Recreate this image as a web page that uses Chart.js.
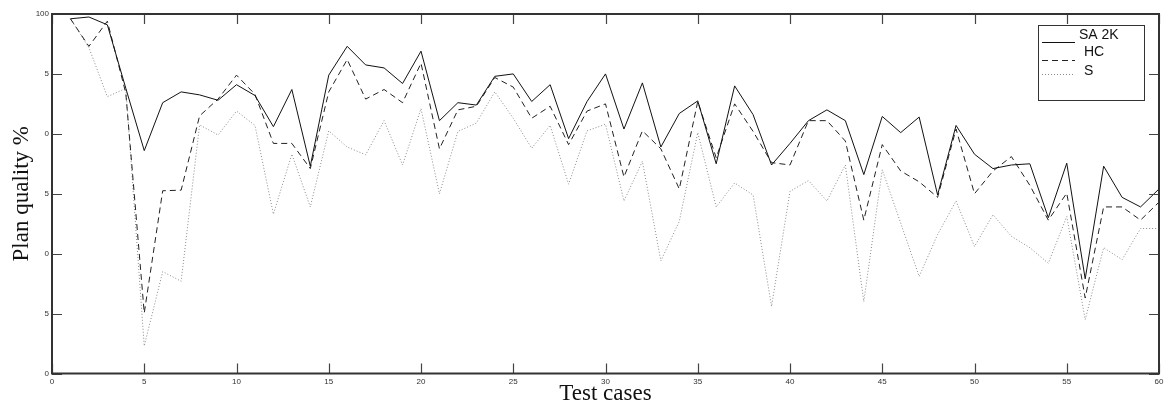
<!DOCTYPE html>
<html>
<head>
<meta charset="utf-8">
<script src="https://cdn.jsdelivr.net/npm/chart.js@4"></script>
<style>
  html, body { margin: 0; padding: 0; background: #fff; }
  #wrap { width: 1169px; height: 407px; }
</style>
</head>
<body>
<div id="wrap"><canvas id="quality"></canvas></div>
<script>
const testCases = [];
for (let i = 1; i <= 60; i++) testCases.push(i);

const sa2k = [99.6, 99.75, 99.1, 93.8, 88.6, 92.6, 93.5, 93.25, 92.8, 94.1,
  93.2, 90.6, 93.7, 87.3, 94.9, 97.3, 95.75, 95.5, 94.2, 96.9,
  91.1, 92.6, 92.4, 94.8, 95.0, 92.7, 94.1, 89.6, 92.7, 95.0,
  90.4, 94.25, 88.9, 91.7, 92.75, 87.5, 94.0, 91.6, 87.4, 89.2,
  91.1, 92.0, 91.1, 86.6, 91.45, 90.1, 91.4, 84.9, 90.7, 88.3,
  87.1, 87.4, 87.5, 83.0, 87.55, 77.9, 87.3, 84.7, 83.9, 85.4];

const hc = [99.6, 97.3, 99.4, 93.4, 75.05, 85.25, 85.3, 91.5, 92.9, 94.9,
  93.3, 89.2, 89.2, 87.1, 93.5, 96.2, 92.9, 93.7, 92.6, 95.9,
  88.75, 92.0, 92.3, 94.7, 93.9, 91.3, 92.3, 89.1, 91.9, 92.5,
  86.4, 90.25, 88.75, 85.4, 92.7, 88.0, 92.5, 90.2, 87.6, 87.4,
  91.1, 91.1, 89.4, 82.8, 89.1, 86.9, 86.0, 84.7, 90.4, 85.0,
  86.9, 88.1, 85.7, 82.8, 85.05, 76.3, 83.9, 83.9, 82.8, 84.3];

const s = [99.6, 97.2, 93.1, 93.8, 72.3, 78.5, 77.7, 90.75, 89.9, 91.9,
  90.7, 83.3, 88.3, 83.9, 90.25, 88.9, 88.25, 91.1, 87.4, 92.1,
  85.0, 90.2, 90.9, 93.5, 91.3, 88.8, 90.7, 85.8, 90.25, 90.8,
  84.4, 87.7, 79.4, 82.7, 90.1, 83.9, 85.9, 84.9, 75.6, 85.2,
  86.1, 84.4, 87.4, 76.0, 87.0, 82.55, 78.1, 81.6, 84.4, 80.6,
  83.25, 81.45, 80.5, 79.2, 83.1, 74.5, 80.5, 79.5, 82.1, 82.1];

// y tick labels as printed on the figure (values 70, 75, ... 100)
const yTickValues = [70, 75, 80, 85, 90, 95, 100];
const yTickLabels = ['0', '5', '0', '5', '0', '5', '100'];
const xTickValues = [0, 5, 10, 15, 20, 25, 30, 35, 40, 45, 50, 55, 60];

const pts = arr => arr.map((v, i) => ({ x: testCases[i], y: v }));

// frame with inward ticks on all four sides, matlab style
const frame = {
  id: 'frame',
  afterDatasetsDraw(chart) {
    const { ctx, chartArea: a, scales } = chart;
    ctx.save();
    ctx.strokeStyle = '#444';
    ctx.lineWidth = 1.2;
    ctx.beginPath();
    xTickValues.forEach(v => {
      const px = Math.round(scales.x.getPixelForValue(v)) + 0.5;
      ctx.moveTo(px, a.bottom); ctx.lineTo(px, a.bottom - 10);
      ctx.moveTo(px, a.top); ctx.lineTo(px, a.top + 10);
    });
    yTickValues.forEach(v => {
      const py = Math.round(scales.y.getPixelForValue(v)) + 0.5;
      ctx.moveTo(a.left, py); ctx.lineTo(a.left + 10, py);
      ctx.moveTo(a.right, py); ctx.lineTo(a.right - 10, py);
    });
    ctx.stroke();
    ctx.strokeStyle = '#333';
    ctx.lineWidth = 2;
    ctx.strokeRect(a.left, a.top, a.right - a.left, a.bottom - a.top);
    ctx.restore();
  }
};

// boxed legend in the upper right corner
const boxLegend = {
  id: 'boxLegend',
  afterDraw(chart) {
    const { ctx } = chart;
    ctx.save();
    ctx.fillStyle = '#fff';
    ctx.fillRect(1038, 25, 106, 75);
    ctx.strokeStyle = '#333';
    ctx.lineWidth = 1;
    ctx.strokeRect(1038.5, 25.5, 106, 75);
    const textY = [35, 52, 71];
    const lineY = [42, 60, 74];
    const textX = [1079, 1084, 1084];
    ctx.font = '14px "Liberation Sans", Arial, sans-serif';
    ctx.textBaseline = 'middle';
    chart.data.datasets.forEach((d, i) => {
      ctx.beginPath();
      ctx.strokeStyle = d.borderColor;
      ctx.lineWidth = 1;
      ctx.setLineDash(d.borderDash || []);
      ctx.moveTo(1042, lineY[i] + 0.5);
      ctx.lineTo(1075, lineY[i] + 0.5);
      ctx.stroke();
      ctx.setLineDash([]);
      ctx.fillStyle = '#111';
      ctx.fillText(d.label, textX[i], textY[i]);
    });
    ctx.restore();
  }
};

new Chart(document.getElementById('quality'), {
  type: 'line',
  data: {
    datasets: [{
      label: 'SA 2K',
      data: pts(sa2k),
      borderColor: '#111',
      borderWidth: 1,
      pointRadius: 0,
      tension: 0
    }, {
      label: 'HC',
      data: pts(hc),
      borderColor: '#222',
      borderWidth: 1,
      borderDash: [6, 4],
      pointRadius: 0,
      tension: 0
    }, {
      label: 'S',
      data: pts(s),
      borderColor: '#8a8a8a',
      borderWidth: 1,
      borderDash: [1, 2],
      pointRadius: 0,
      tension: 0
    }]
  },
  options: {
    responsive: true,
    maintainAspectRatio: false,
    animation: false,
    layout: { padding: { top: 14, right: 10, left: 0, bottom: 0 } },
    plugins: { legend: { display: false }, tooltip: { enabled: false } },
    scales: {
      x: {
        type: 'linear',
        min: 0,
        max: 60,
        afterBuildTicks: sc => { sc.ticks = xTickValues.map(v => ({ value: v })); },
        afterFit: sc => { sc.height = 33.5; },
        grid: { display: false, drawTicks: false, tickLength: 0 },
        border: { display: false },
        ticks: {
          color: '#333',
          padding: 3,
          maxRotation: 0,
          font: { family: '"Liberation Sans", Arial, sans-serif', size: 8 }
        },
        title: {
          display: true,
          text: 'Test cases',
          color: '#111',
          padding: { top: 0, bottom: 2 },
          font: { family: '"Liberation Serif", "Times New Roman", serif', size: 23, lineHeight: 1 }
        }
      },
      y: {
        type: 'linear',
        min: 70,
        max: 100,
        afterBuildTicks: sc => { sc.ticks = yTickValues.map(v => ({ value: v })); },
        afterFit: sc => { sc.width = 52; },
        grid: { display: false, drawTicks: false, tickLength: 0 },
        border: { display: false },
        ticks: {
          color: '#333',
          padding: 3,
          font: { family: '"Liberation Sans", Arial, sans-serif', size: 8 },
          callback: v => yTickLabels[yTickValues.indexOf(v)]
        },
        title: {
          display: true,
          text: 'Plan quality %',
          color: '#111',
          padding: { top: 10, bottom: 0 },
          font: { family: '"Liberation Serif", "Times New Roman", serif', size: 23, lineHeight: 1 }
        }
      }
    }
  },
  plugins: [frame, boxLegend]
});
</script>
</body>
</html>
